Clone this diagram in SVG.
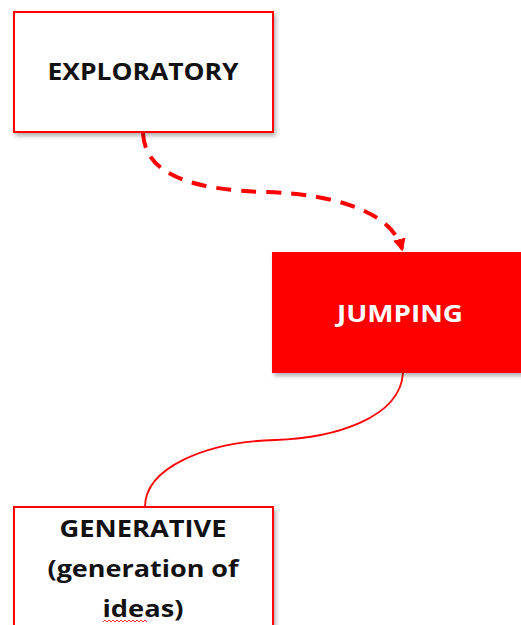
<svg xmlns="http://www.w3.org/2000/svg" width="521" height="625" viewBox="0 0 521 625">
<style>
.box{fill:#ffffff;stroke:#ff0000;stroke-width:2}
.lbl{font-family:"Open Sans","Liberation Sans",Arial,sans-serif;font-weight:bold;font-size:24px;fill:#111;text-anchor:middle}
.wlbl{fill:#ffffff}
.dash{fill:none;stroke:#ff0000;stroke-width:4;stroke-dasharray:15 10}
.solid{fill:none;stroke:#ff0000;stroke-width:1.8}
</style>
<defs>
<filter id="sh" x="-10%" y="-10%" width="130%" height="130%">
<feDropShadow dx="2" dy="3" stdDeviation="2" flood-color="#000" flood-opacity="0.3"/>
</filter>
<marker id="ah" viewBox="0 0 10 10" refX="8" refY="5" markerWidth="3.2" markerHeight="3.2" orient="auto" markerUnits="strokeWidth">
<path d="M0,0 L10,5 L0,10 z" fill="#ff0000"/>
</marker>
</defs>
<rect width="521" height="625" fill="#ffffff"/>
<g id="connectors">
<path class="dash" d="M143,133 C145,178 200,190 265,192 C335,194 392,212 402,249" marker-end="url(#ah)"/>
<path class="solid" d="M403,373 C400,418 335,438 275,440 C205,442 145,468 145,507"/>
</g>
<g id="exploratory">
<rect class="box" x="14" y="12" width="259" height="120" filter="url(#sh)"/>
<text class="lbl" x="143" y="80" textLength="191" lengthAdjust="spacingAndGlyphs">EXPLORATORY</text>
</g>
<g id="jumping">
<rect x="272" y="252" width="260" height="121" fill="#ff0000" filter="url(#sh)"/>
<text class="lbl wlbl" x="400" y="322" textLength="126" lengthAdjust="spacingAndGlyphs">JUMPING</text>
</g>
<g id="generative">
<rect class="box" x="14" y="507" width="259" height="130" filter="url(#sh)"/>
<text class="lbl" x="143" y="537" textLength="167" lengthAdjust="spacingAndGlyphs">GENERATIVE</text>
<text class="lbl" x="143" y="577" textLength="191" lengthAdjust="spacingAndGlyphs">(generation of</text>
<text class="lbl" x="143" y="617" textLength="81" lengthAdjust="spacingAndGlyphs">ideas)</text>
<path d="M103,622 l2,-2 l2,2 l2,-2 l2,2 l2,-2 l2,2 l2,-2 l2,2 l2,-2 l2,2 l2,-2 l2,2 l2,-2 l2,2 l2,-2 l2,2 l2,-2 l2,2 l2,-2 l2,2 l2,-2 l2,2" fill="none" stroke="#ff0000" stroke-width="0.8"/>
</g>
</svg>
